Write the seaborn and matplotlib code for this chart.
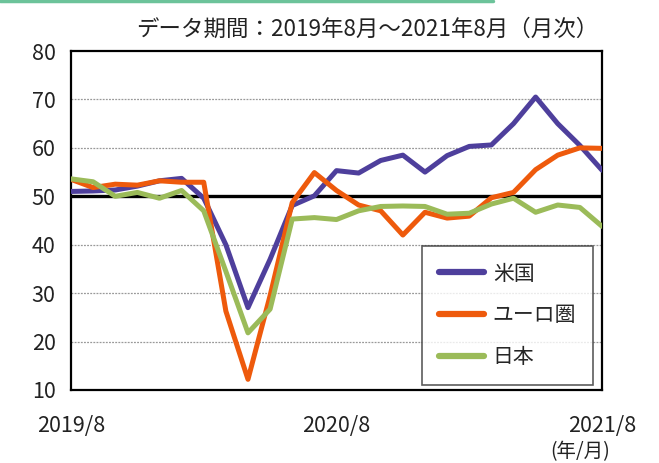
import numpy as np
import pandas as pd
import matplotlib
matplotlib.use("Agg")
import matplotlib.pyplot as plt
import seaborn as sns

# 月次データ 2019/8 ～ 2021/8
months = pd.period_range("2019-08", "2021-08", freq="M").strftime("%Y/%-m").tolist()
us = [51.0, 51.1, 51.3, 52.1, 53.2, 53.7, 49.6, 40.0, 27.0, 37.0, 48.1, 50.1,
      55.3, 54.8, 57.4, 58.5, 55.0, 58.4, 60.3, 60.6, 65.0, 70.5, 65.0, 60.5, 55.4]
euro = [53.5, 51.8, 52.5, 52.3, 53.2, 52.9, 52.9, 26.3, 12.2, 29.5, 48.7, 54.9,
        51.2, 48.2, 47.0, 42.0, 46.7, 45.5, 45.9, 49.7, 50.8, 55.5, 58.5, 60.0, 59.9]
japan = [53.6, 53.0, 50.0, 50.8, 49.6, 51.2, 47.0, 34.5, 21.8, 26.7, 45.3, 45.6,
         45.2, 47.0, 47.9, 48.0, 47.9, 46.3, 46.5, 48.4, 49.6, 46.7, 48.2, 47.7, 43.8]
series_names = ["米国", "ユーロ圏", "日本"]
colors = ["#4e3f9c", "#ee5a0c", "#9bbb59"]
xtick_pos = [0, 12, 24]

df = pd.DataFrame({"x": np.arange(len(months)), "米国": us, "ユーロ圏": euro, "日本": japan})
long = df.melt(id_vars="x", var_name="地域", value_name="値")

sns.set_style("white")
plt.rcParams["font.family"] = ["Noto Sans CJK JP", "DejaVu Sans"]

fig = plt.figure(figsize=(6.59, 4.63), dpi=100)
ax = fig.add_axes([0.1077, 0.1577, 0.8058, 0.7321])

# 補助線
for v in [20, 30, 40, 60, 70]:
    ax.axhline(v, color="#999999", lw=0.9, ls=(0, (1.5, 1)), zorder=1)
ax.axhline(50, color="black", lw=2.4, zorder=2)

sns.lineplot(data=long, x="x", y="値", hue="地域", hue_order=series_names,
             palette=colors, lw=3.6, ax=ax, zorder=3, legend=True)

ax.set_xlim(0, 24)
ax.set_ylim(10, 80)
ax.set_yticks(range(10, 81, 10))
ax.set_xticks(xtick_pos)
ax.set_xticklabels([months[i] for i in xtick_pos])
ax.set_xlabel("")
ax.set_ylabel("")
ax.tick_params(axis="both", length=0, labelsize=15.5, colors="#222222")
ax.tick_params(axis="x", pad=18)
ax.tick_params(axis="y", pad=11)
for s in ax.spines.values():
    s.set_color("black")
    s.set_linewidth(1.6)

leg = ax.legend(loc="lower right", bbox_to_anchor=(0.983, 0.015), fontsize=15,
                frameon=True, fancybox=False, edgecolor="#333333",
                handlelength=2.2, handletextpad=0.4, labelspacing=0.95,
                borderpad=0.8, borderaxespad=0)
leg.get_frame().set_linewidth(1.2)
for h in leg.get_lines():
    h.set_linewidth(4.5)
    h.set_solid_capstyle("round")

fig.text(0.908, 0.937, "データ期間：2019年8月～2021年8月（月次）", ha="right", va="center",
         fontsize=16.2, color="#222222")
fig.text(0.88, 0.024, "(年/月)", ha="center", va="center", fontsize=14, color="#222222")
fig.add_artist(plt.Line2D([0, 0.748], [0.998, 0.998], color="#6cc39a", lw=2.5,
                          transform=fig.transFigure))

fig.savefig("out.png", dpi=100)
